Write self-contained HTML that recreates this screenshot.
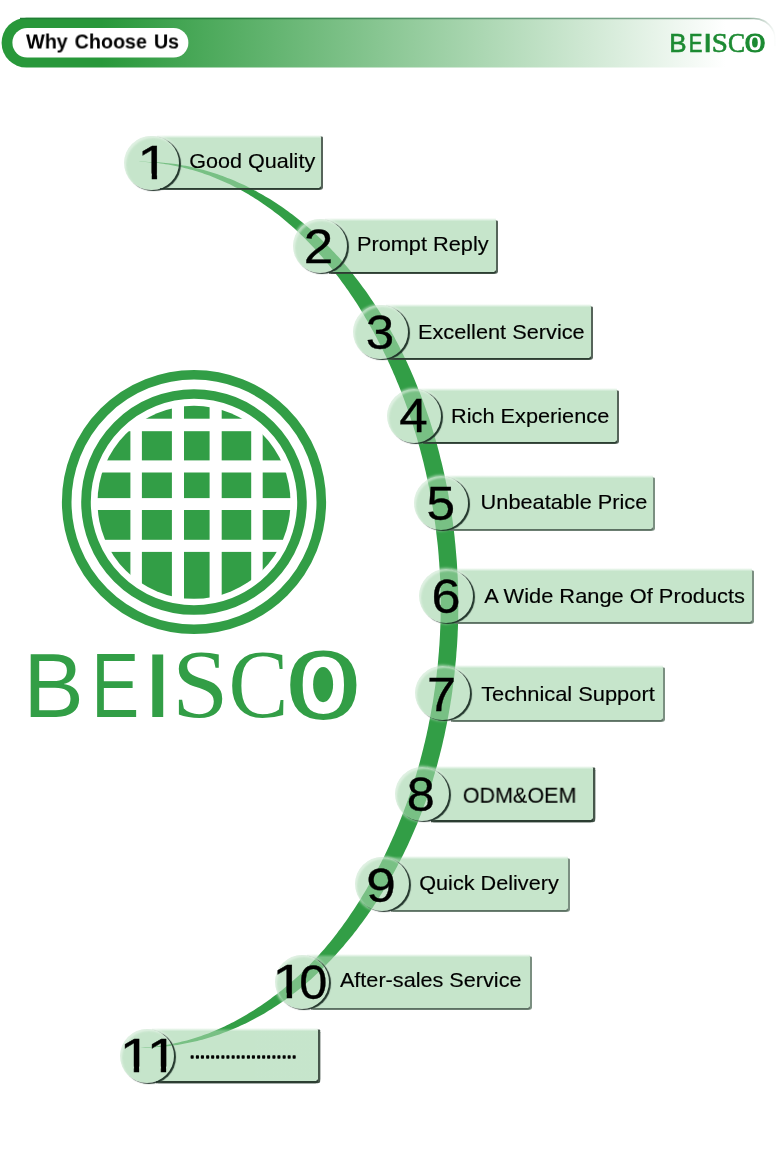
<!DOCTYPE html>
<html lang="en">
<head>
<meta charset="utf-8">
<title>Why Choose Us - BEISCO</title>
<style>
html,body{margin:0;padding:0;background:#fff;}
body{width:780px;height:1163px;position:relative;overflow:hidden;font-family:"Liberation Sans",Arial,sans-serif;color:#000;}
.t{position:absolute;left:0;top:0;will-change:transform;white-space:nowrap;transform-origin:0 0;line-height:1;}
.hl{font-size:20px;font-weight:bold;word-spacing:1.5px;}
svg{position:absolute;left:0;top:0;will-change:transform;}
.grp{position:absolute;left:0;top:0;width:780px;height:1163px;opacity:.62;}
.box{position:absolute;border-radius:0 1px 3px 0;box-sizing:content-box;}
.cir{position:absolute;width:54.4px;height:54.4px;border-radius:50%;}
.grp .box,.grp .cir{background:#a3d5ac;}
.grp .box{background:linear-gradient(to bottom,rgba(163,213,172,0) 0,#a3d5ac 3.2px);}
.sh .box{border-radius:0 1px 2.5px 0;}
.sh .d{box-shadow:0 1.7px 0 0 #2b3d31,1.9px 1.7px 0 0 #55645a,1.9px 0.4px 0 0 #55645a;}
.sh .l{box-shadow:0 1.7px 0 0 #5c7163,1.9px 1.7px 0 0 #7b8f81,1.9px 0.4px 0 0 #7b8f81;}
.sh .k{box-shadow:0 2.2px 0.4px 0 #2b3d31,2.2px 2.2px 0.4px 0 #46564b,2.2px 0.4px 0.4px 0 #46564b;}
.sh .cir{box-shadow:2px 1.1px 0.9px rgba(15,35,25,.9), 0 0 2.5px 1.2px rgba(255,255,255,.5), inset 2px 2px 2px rgba(255,255,255,.45);}
.num{font-size:48px;-webkit-text-stroke:0.35px #000;}
.lab{font-size:20.2px;-webkit-text-stroke:0.15px #000;}
.l8{font-size:21.8px;-webkit-text-stroke:0.1px #000;}
.dotsvg{pointer-events:none;}
</style>
</head>
<body>
<svg width="780" height="1163" viewBox="0 0 780 1163">
<defs><clipPath id="gc"><circle cx="194" cy="502.3" r="96.5"/></clipPath>
<linearGradient id="hg" gradientUnits="userSpaceOnUse" x1="0" y1="0" x2="780" y2="0"><stop offset="0" stop-color="#28983a"/><stop offset="0.13" stop-color="#28983a"/><stop offset="0.93" stop-color="#ffffff"/></linearGradient>
<linearGradient id="hl2" gradientUnits="userSpaceOnUse" x1="0" y1="0" x2="780" y2="0"><stop offset="0" stop-color="#1f7f33"/><stop offset="0.3" stop-color="#2a7e3e"/><stop offset="0.6" stop-color="#5f9873"/><stop offset="0.96" stop-color="#8fae9b"/><stop offset="0.995" stop-color="#8fae9b" stop-opacity="0"/></linearGradient>
</defs>
<path id="bar" d="M26.5 17.8H754A22 22 0 0 1 776 39.8V67.6H26.5A24.9 24.9 0 0 1 26.5 17.8Z" fill="url(#hg)"/>
<path id="barline" d="M20 18.5H754A21.4 21.4 0 0 1 775.4 39.8V46" fill="none" stroke="url(#hl2)" stroke-width="1.7"/>
<rect id="pill" x="12.4" y="28" width="176" height="29.6" rx="14.8" fill="#fff"/>
<path id="arc" d="M135.7 161.9 138.2 161.9 140.7 161.8 143.2 161.8 145.7 161.8 148.2 161.9 150.7 161.9 153.3 162.0 155.8 162.1 158.3 162.3 160.8 162.5 163.3 162.7 165.8 162.9 168.3 163.2 170.8 163.5 173.3 163.8 175.8 164.1 178.3 164.5 180.7 164.9 183.2 165.4 185.7 165.8 188.2 166.3 190.7 166.8 193.2 167.4 195.6 167.9 198.1 168.5 200.6 169.2 203.0 169.8 205.5 170.5 207.9 171.2 210.4 171.9 212.8 172.7 215.3 173.5 217.7 174.3 220.2 175.2 222.6 176.0 225.0 176.9 227.4 177.9 229.8 178.8 232.3 179.8 234.7 180.8 237.1 181.9 239.4 182.9 241.8 184.0 244.2 185.1 246.6 186.3 248.9 187.4 251.3 188.6 253.7 189.9 256.0 191.1 258.3 192.4 260.7 193.7 263.0 195.0 265.3 196.4 267.6 197.7 269.9 199.1 272.2 200.6 274.5 202.0 276.8 203.5 279.0 205.0 281.3 206.6 283.5 208.1 285.8 209.7 288.0 211.3 290.2 212.9 292.4 214.6 294.6 216.3 296.8 218.0 299.0 219.7 301.2 221.5 303.4 223.3 305.5 225.1 307.7 226.9 309.8 228.7 311.9 230.6 314.0 232.5 316.1 234.4 318.2 236.4 320.3 238.4 322.4 240.4 324.4 242.4 326.5 244.4 328.5 246.5 330.5 248.6 332.5 250.7 334.5 252.8 336.5 255.0 338.5 257.1 340.5 259.3 342.4 261.5 344.3 263.8 346.3 266.1 348.2 268.3 350.1 270.6 352.0 273.0 353.8 275.3 355.7 277.7 357.5 280.1 359.4 282.5 361.2 284.9 363.0 287.4 364.8 289.8 366.6 292.3 368.3 294.8 370.1 297.4 371.8 299.9 373.5 302.5 375.2 305.1 376.9 307.7 378.6 310.3 380.2 313.0 381.9 315.6 383.5 318.3 385.1 321.0 386.7 323.7 388.3 326.5 389.9 329.2 391.4 332.0 393.0 334.8 394.5 337.6 396.0 340.4 397.5 343.2 399.0 346.1 400.4 349.0 401.9 351.9 403.3 354.8 404.7 357.7 406.1 360.6 407.5 363.6 408.8 366.5 410.2 369.5 411.5 372.5 412.8 375.5 414.1 378.6 415.3 381.6 416.6 384.7 417.8 387.7 419.1 390.8 420.3 393.9 421.4 397.0 422.6 400.1 423.8 403.3 424.9 406.4 426.0 409.6 427.1 412.7 428.2 415.9 429.3 419.1 430.3 422.3 431.3 425.6 432.3 428.8 433.3 432.0 434.3 435.3 435.2 438.6 436.2 441.8 437.1 445.1 438.0 448.4 438.9 451.7 439.7 455.0 440.5 458.4 441.4 461.7 442.2 465.0 443.0 468.4 443.7 471.8 444.5 475.1 445.2 478.5 445.9 481.9 446.6 485.3 447.2 488.7 447.9 492.1 448.5 495.5 449.1 498.9 449.7 502.4 450.3 505.8 450.9 509.2 451.4 512.7 451.9 516.1 452.4 519.6 452.9 523.1 453.3 526.5 453.8 530.0 454.2 533.5 454.6 537.0 454.9 540.5 455.3 544.0 455.6 547.5 455.9 551.0 456.2 554.5 456.5 558.0 456.8 561.5 457.0 565.0 457.2 568.5 457.4 572.0 457.6 575.6 457.8 579.1 457.9 582.6 458.0 586.1 458.1 589.7 458.2 593.2 458.2 596.7 458.3 600.2 458.3 603.8 458.3 607.3 458.3 610.8 458.2 614.4 458.2 617.9 458.1 621.4 458.0 624.9 457.9 628.5 457.7 632.0 457.6 635.5 457.4 639.0 457.2 642.5 457.0 646.1 456.7 649.6 456.4 653.1 456.2 656.6 455.9 660.1 455.5 663.6 455.2 667.1 454.8 670.6 454.5 674.1 454.1 677.6 453.6 681.0 453.2 684.5 452.7 688.0 452.3 691.4 451.8 694.9 451.3 698.4 450.7 701.8 450.2 705.2 449.6 708.7 449.0 712.1 448.4 715.5 447.7 718.9 447.1 722.3 446.4 725.7 445.7 729.1 445.0 732.5 444.3 735.9 443.5 739.3 442.8 742.6 442.0 746.0 441.2 749.3 440.3 752.7 439.5 756.0 438.6 759.3 437.8 762.6 436.9 765.9 435.9 769.2 435.0 772.4 434.0 775.7 433.1 779.0 432.1 782.2 431.1 785.4 430.0 788.6 429.0 791.8 427.9 795.0 426.8 798.2 425.7 801.4 424.5 804.5 423.4 807.7 422.2 810.8 421.0 813.9 419.8 817.0 418.6 820.1 417.4 823.2 416.1 826.2 414.8 829.3 413.5 832.3 412.2 835.3 410.9 838.3 409.5 841.3 408.2 844.2 406.8 847.2 405.4 850.1 404.0 853.1 402.5 856.0 401.1 858.8 399.6 861.7 398.1 864.6 396.6 867.4 395.1 870.2 393.6 873.0 392.1 875.8 390.5 878.6 388.9 881.3 387.3 884.1 385.7 886.8 384.1 889.5 382.5 892.2 380.8 894.8 379.2 897.5 377.5 900.1 375.8 902.7 374.1 905.3 372.4 907.9 370.7 910.4 368.9 913.0 367.2 915.5 365.4 918.0 363.6 920.4 361.8 922.9 360.0 925.3 358.2 927.8 356.4 930.2 354.5 932.5 352.7 934.9 350.8 937.2 348.9 939.6 347.0 941.8 345.1 944.1 343.2 946.4 341.3 948.6 339.3 950.8 337.3 953.0 335.4 955.2 333.4 957.3 331.4 959.4 329.4 961.5 327.4 963.6 325.3 965.7 323.3 967.7 321.2 969.7 319.2 971.7 317.1 973.6 315.0 975.6 312.9 977.5 310.8 979.4 308.7 981.2 306.6 983.1 304.4 984.9 302.3 986.7 300.1 988.5 297.9 990.2 295.7 991.9 293.6 993.6 291.4 995.3 289.2 996.9 286.9 998.6 284.7 1000.2 282.5 1001.7 280.2 1003.3 278.0 1004.8 275.7 1006.3 273.4 1007.8 271.2 1009.2 268.9 1010.6 266.6 1012.0 264.3 1013.4 262.0 1014.7 259.7 1016.1 257.3 1017.3 255.0 1018.6 252.7 1019.8 250.3 1021.1 248.0 1022.2 245.6 1023.4 243.2 1024.5 240.9 1025.6 238.5 1026.7 236.1 1027.8 233.7 1028.8 231.3 1029.8 228.9 1030.8 226.5 1031.7 224.1 1032.6 221.7 1033.5 219.3 1034.4 216.8 1035.2 214.4 1036.0 212.0 1036.8 209.5 1037.6 207.1 1038.3 204.6 1039.0 202.2 1039.7 199.7 1040.3 197.3 1040.9 194.8 1041.5 192.4 1042.1 189.9 1042.6 187.4 1043.1 184.9 1043.6 182.5 1044.1 180.0 1044.5 177.5 1044.9 175.0 1045.3 172.5 1045.6 170.0 1045.9 167.6 1046.2 165.1 1046.4 162.6 1046.7 160.1 1046.9 157.6 1047.0 155.1 1047.2 152.6 1047.3 150.1 1047.4 147.6 1047.5 145.1 1047.5 142.6 1047.5 140.1 1047.5 L140.1 1047.5 142.6 1047.2 145.1 1047.1 147.6 1047.0 150.1 1046.9 152.6 1046.7 155.1 1046.5 157.5 1046.2 160.0 1045.8 162.5 1045.5 164.9 1045.1 167.4 1044.7 169.9 1044.3 172.3 1043.8 174.7 1043.3 177.2 1042.8 179.6 1042.2 182.0 1041.6 184.5 1041.0 186.9 1040.4 189.3 1039.7 191.7 1039.0 194.1 1038.3 196.5 1037.6 198.8 1036.8 201.2 1036.0 203.6 1035.1 205.9 1034.3 208.3 1033.4 210.6 1032.5 212.9 1031.5 215.3 1030.6 217.6 1029.6 219.9 1028.6 222.2 1027.5 224.5 1026.4 226.8 1025.3 229.0 1024.2 231.3 1023.1 233.6 1021.9 235.8 1020.7 238.0 1019.5 240.3 1018.3 242.5 1017.0 244.7 1015.7 246.9 1014.4 249.1 1013.1 251.3 1011.8 253.5 1010.4 255.7 1009.0 257.9 1007.6 260.0 1006.2 262.2 1004.7 264.3 1003.2 266.5 1001.7 268.6 1000.2 270.7 998.7 272.8 997.1 274.9 995.5 277.0 993.9 279.1 992.3 281.2 990.7 283.3 989.0 285.3 987.3 287.4 985.6 289.4 983.9 291.5 982.1 293.5 980.3 295.5 978.5 297.5 976.7 299.5 974.9 301.5 973.0 303.5 971.1 305.4 969.2 307.4 967.3 309.3 965.3 311.2 963.3 313.1 961.3 315.0 959.3 316.9 957.3 318.8 955.2 320.7 953.1 322.5 951.0 324.4 948.9 326.2 946.7 328.0 944.6 329.8 942.4 331.6 940.2 333.4 937.9 335.1 935.7 336.9 933.4 338.6 931.1 340.4 928.8 342.1 926.5 343.8 924.1 345.5 921.8 347.1 919.4 348.8 917.0 350.4 914.6 352.1 912.1 353.7 909.7 355.3 907.2 356.9 904.7 358.5 902.2 360.1 899.7 361.7 897.1 363.2 894.6 364.8 892.0 366.3 889.4 367.8 886.8 369.3 884.2 370.8 881.6 372.3 878.9 373.8 876.3 375.2 873.6 376.7 870.9 378.1 868.2 379.5 865.4 381.0 862.7 382.3 859.9 383.7 857.2 385.1 854.4 386.5 851.6 387.8 848.8 389.1 845.9 390.4 843.1 391.7 840.2 393.0 837.3 394.3 834.5 395.5 831.6 396.8 828.6 398.0 825.7 399.2 822.8 400.4 819.8 401.6 816.8 402.7 813.8 403.9 810.8 405.0 807.8 406.1 804.8 407.2 801.8 408.3 798.7 409.4 795.7 410.4 792.6 411.5 789.5 412.5 786.4 413.5 783.3 414.5 780.2 415.4 777.0 416.4 773.9 417.3 770.7 418.2 767.6 419.1 764.4 420.0 761.2 420.8 758.0 421.7 754.8 422.5 751.6 423.3 748.4 424.1 745.1 424.9 741.9 425.6 738.7 426.4 735.4 427.1 732.1 427.8 728.9 428.5 725.6 429.1 722.3 429.8 719.0 430.4 715.7 431.0 712.4 431.6 709.0 432.2 705.7 432.8 702.4 433.3 699.0 433.8 695.7 434.3 692.3 434.8 689.0 435.3 685.6 435.7 682.2 436.1 678.9 436.6 675.5 436.9 672.1 437.3 668.7 437.7 665.3 438.0 661.9 438.3 658.5 438.6 655.1 438.9 651.7 439.1 648.3 439.4 644.9 439.6 641.5 439.8 638.1 440.0 634.6 440.1 631.2 440.3 627.8 440.4 624.4 440.5 621.0 440.6 617.5 440.6 614.1 440.7 610.7 440.7 607.2 440.7 603.8 440.7 600.4 440.6 596.9 440.6 593.5 440.5 590.1 440.4 586.7 440.3 583.2 440.2 579.8 440.0 576.4 439.8 573.0 439.6 569.6 439.4 566.1 439.2 562.7 438.9 559.3 438.7 555.9 438.4 552.5 438.1 549.1 437.8 545.7 437.4 542.3 437.0 538.9 436.6 535.5 436.2 532.2 435.8 528.8 435.4 525.4 434.9 522.0 434.4 518.7 433.9 515.3 433.4 512.0 432.9 508.6 432.3 505.3 431.8 502.0 431.2 498.7 430.6 495.3 429.9 492.0 429.3 488.7 428.6 485.4 427.9 482.2 427.2 478.9 426.5 475.6 425.8 472.3 425.0 469.1 424.3 465.9 423.5 462.6 422.7 459.4 421.9 456.2 421.0 453.0 420.2 449.8 419.3 446.6 418.4 443.4 417.5 440.2 416.6 437.1 415.7 433.9 414.7 430.8 413.7 427.7 412.8 424.5 411.7 421.4 410.7 418.4 409.7 415.3 408.7 412.2 407.6 409.1 406.5 406.1 405.4 403.1 404.3 400.0 403.2 397.0 402.0 394.0 400.9 391.1 399.7 388.1 398.5 385.1 397.3 382.2 396.1 379.2 394.9 376.3 393.6 373.4 392.4 370.5 391.1 367.7 389.8 364.8 388.5 361.9 387.2 359.1 385.9 356.3 384.5 353.5 383.2 350.7 381.8 347.9 380.4 345.1 379.0 342.4 377.6 339.7 376.2 337.0 374.7 334.3 373.3 331.6 371.8 328.9 370.3 326.2 368.9 323.6 367.4 321.0 365.8 318.4 364.3 315.8 362.8 313.2 361.2 310.7 359.6 308.1 358.1 305.6 356.5 303.1 354.8 300.6 353.2 298.1 351.6 295.7 349.9 293.3 348.3 290.8 346.6 288.4 344.9 286.1 343.2 283.7 341.5 281.4 339.8 279.0 338.1 276.7 336.3 274.4 334.6 272.2 332.8 269.9 331.0 267.7 329.2 265.5 327.4 263.3 325.6 261.1 323.8 258.9 322.0 256.8 320.1 254.7 318.2 252.6 316.4 250.5 314.5 248.5 312.6 246.4 310.7 244.4 308.8 242.4 306.8 240.5 304.9 238.5 302.9 236.6 301.0 234.7 299.0 232.8 297.0 230.9 295.0 229.1 293.0 227.3 291.0 225.5 288.9 223.7 286.9 221.9 284.8 220.2 282.8 218.5 280.7 216.8 278.6 215.1 276.5 213.5 274.4 211.9 272.3 210.3 270.2 208.7 268.0 207.2 265.9 205.7 263.7 204.2 261.6 202.7 259.4 201.2 257.2 199.8 255.0 198.4 252.8 197.0 250.6 195.7 248.4 194.3 246.1 193.0 243.9 191.8 241.7 190.5 239.4 189.3 237.1 188.1 234.8 186.9 232.6 185.7 230.3 184.6 228.0 183.5 225.7 182.4 223.3 181.4 221.0 180.4 218.7 179.4 216.3 178.4 214.0 177.4 211.6 176.5 209.3 175.6 206.9 174.8 204.5 173.9 202.1 173.1 199.7 172.3 197.4 171.6 194.9 170.8 192.5 170.1 190.1 169.4 187.7 168.8 185.3 168.2 182.8 167.6 180.4 167.0 177.9 166.5 175.5 165.9 173.0 165.5 170.6 165.0 168.1 164.6 165.6 164.2 163.2 163.8 160.7 163.4 158.2 163.1 155.7 162.8 153.2 162.6 150.7 162.4 148.2 162.3 145.7 162.1 143.2 162.1 140.7 162.0 138.2 162.0 135.7 161.9Z" fill="#329e46"/>
<g id="rings" fill="none" stroke="#329e46" stroke-width="9.6"><circle cx="194" cy="502" r="127.3"/><circle cx="194" cy="502" r="108"/></g>
<g id="grid" fill="#329e46" clip-path="url(#gc)"><rect x="95" y="400" width="35.4" height="18.7"/><rect x="95" y="431.2" width="35.4" height="29.2"/><rect x="95" y="472.5" width="35.4" height="25.6"/><rect x="95" y="510" width="35.4" height="29.8"/><rect x="95" y="551.9" width="35.4" height="53.1"/><rect x="141.9" y="400" width="30.0" height="18.7"/><rect x="141.9" y="431.2" width="30.0" height="29.2"/><rect x="141.9" y="472.5" width="30.0" height="25.6"/><rect x="141.9" y="510" width="30.0" height="29.8"/><rect x="141.9" y="551.9" width="30.0" height="53.1"/><rect x="184" y="400" width="25.6" height="18.7"/><rect x="184" y="431.2" width="25.6" height="29.2"/><rect x="184" y="472.5" width="25.6" height="25.6"/><rect x="184" y="510" width="25.6" height="29.8"/><rect x="184" y="551.9" width="25.6" height="53.1"/><rect x="221.7" y="400" width="29.5" height="18.7"/><rect x="221.7" y="431.2" width="29.5" height="29.2"/><rect x="221.7" y="472.5" width="29.5" height="25.6"/><rect x="221.7" y="510" width="29.5" height="29.8"/><rect x="221.7" y="551.9" width="29.5" height="53.1"/><rect x="262.7" y="400" width="32.3" height="18.7"/><rect x="262.7" y="431.2" width="32.3" height="29.2"/><rect x="262.7" y="472.5" width="32.3" height="25.6"/><rect x="262.7" y="510" width="32.3" height="29.8"/><rect x="262.7" y="551.9" width="32.3" height="53.1"/></g>
<g id="logotext" fill="#329e46" stroke="#329e46" stroke-width="0"><text><tspan x="23.34" y="716.80" font-family="'Liberation Sans',serif" font-size="90.99" textLength="60.65" lengthAdjust="spacingAndGlyphs">B</tspan><tspan x="91.30" y="716.80" font-family="'Liberation Sans',serif" font-size="90.70" textLength="47.99" lengthAdjust="spacingAndGlyphs">E</tspan><tspan x="141.61" y="716.80" font-family="'Liberation Sans',serif" font-size="90.70" textLength="32.49" lengthAdjust="spacingAndGlyphs">I</tspan><tspan x="172.10" y="716.64" font-family="'Liberation Serif',serif" font-size="97.63" textLength="56.51" lengthAdjust="spacingAndGlyphs">S</tspan><tspan x="228.62" y="716.64" font-family="'Liberation Serif',serif" font-size="98.38" textLength="59.83" lengthAdjust="spacingAndGlyphs">C</tspan><tspan x="287.30" y="717.13" font-family="'Liberation Serif',serif" font-size="98.97" textLength="72.20" lengthAdjust="spacingAndGlyphs" stroke-width="2.2">O</tspan></text><ellipse cx="323.1" cy="684.6" rx="10" ry="17.7"/></g>
<g id="logosmall" fill="#1c8a32" stroke="#1c8a32" stroke-width="0" transform="matrix(0.2857 0 0 0.2857 662.6 -153.1)"><text><tspan x="23.34" y="716.80" font-family="'Liberation Sans',serif" font-size="90.99" textLength="60.65" lengthAdjust="spacingAndGlyphs" stroke-width="2.2">B</tspan><tspan x="91.30" y="716.80" font-family="'Liberation Sans',serif" font-size="90.70" textLength="47.99" lengthAdjust="spacingAndGlyphs" stroke-width="2.2">E</tspan><tspan x="141.61" y="716.80" font-family="'Liberation Sans',serif" font-size="90.70" textLength="32.49" lengthAdjust="spacingAndGlyphs" stroke-width="2.2">I</tspan><tspan x="172.10" y="716.64" font-family="'Liberation Serif',serif" font-size="97.63" textLength="56.51" lengthAdjust="spacingAndGlyphs" stroke-width="2.2">S</tspan><tspan x="228.62" y="716.64" font-family="'Liberation Serif',serif" font-size="98.38" textLength="59.83" lengthAdjust="spacingAndGlyphs" stroke-width="2.2">C</tspan><tspan x="287.30" y="717.13" font-family="'Liberation Serif',serif" font-size="98.97" textLength="72.20" lengthAdjust="spacingAndGlyphs" stroke-width="4">O</tspan></text><ellipse cx="323.1" cy="684.6" rx="10" ry="17.7"/></g>
</svg>
<div class="t hl" id="hl" style="transform:translate(26.07px,31.50px) scaleX(0.9856);">Why Choose Us</div>
<div class="grp"><div class="box" style="left:156.6px;top:135.0px;width:164.8px;height:53.4px"></div><div class="box" style="left:325.1px;top:218.3px;width:170.7px;height:53.4px"></div><div class="box" style="left:385.6px;top:304.3px;width:205.9px;height:53.4px"></div><div class="box" style="left:419.1px;top:388.3px;width:197.9px;height:53.4px"></div><div class="box" style="left:446.1px;top:475.3px;width:206.6px;height:53.4px"></div><div class="box" style="left:451.1px;top:568.3px;width:301.0px;height:54.0px"></div><div class="box" style="left:447.6px;top:665.3px;width:215.5px;height:54.5px"></div><div class="box" style="left:427.1px;top:765.8px;width:165.7px;height:54.1px"></div><div class="box" style="left:387.1px;top:856.3px;width:180.7px;height:54.2px"></div><div class="box" style="left:307.1px;top:954.3px;width:222.8px;height:54.1px"></div><div class="box" style="left:152.1px;top:1027.8px;width:165.7px;height:53.4px"></div><div class="cir" style="left:124.4px;top:135.5px"></div><div class="cir" style="left:292.9px;top:219.1px"></div><div class="cir" style="left:353.4px;top:305.1px"></div><div class="cir" style="left:386.9px;top:389.1px"></div><div class="cir" style="left:413.9px;top:476.1px"></div><div class="cir" style="left:418.9px;top:569.1px"></div><div class="cir" style="left:415.4px;top:666.1px"></div><div class="cir" style="left:394.9px;top:766.6px"></div><div class="cir" style="left:354.9px;top:857.1px"></div><div class="cir" style="left:274.9px;top:955.1px"></div><div class="cir" style="left:119.9px;top:1028.6px"></div></div>
<div class="sh"><div class="box d" style="left:160.1px;top:136.3px;width:161.3px;height:52.1px"></div><div class="box d" style="left:328.6px;top:219.6px;width:167.2px;height:52.1px"></div><div class="box d" style="left:389.1px;top:305.6px;width:202.4px;height:52.1px"></div><div class="box d" style="left:422.6px;top:389.6px;width:194.4px;height:52.1px"></div><div class="box l" style="left:449.6px;top:476.6px;width:203.1px;height:52.1px"></div><div class="box l" style="left:454.6px;top:569.6px;width:297.5px;height:52.7px"></div><div class="box l" style="left:451.1px;top:666.6px;width:212.0px;height:53.2px"></div><div class="box k" style="left:430.6px;top:767.1px;width:162.2px;height:52.8px"></div><div class="box l" style="left:390.6px;top:857.6px;width:177.2px;height:52.9px"></div><div class="box l" style="left:310.6px;top:955.6px;width:219.3px;height:52.8px"></div><div class="box k" style="left:155.6px;top:1029.1px;width:162.2px;height:52.1px"></div><div class="cir" style="left:124.4px;top:135.5px"></div><div class="cir" style="left:292.9px;top:219.1px"></div><div class="cir" style="left:353.4px;top:305.1px"></div><div class="cir" style="left:386.9px;top:389.1px"></div><div class="cir" style="left:413.9px;top:476.1px"></div><div class="cir" style="left:418.9px;top:569.1px"></div><div class="cir" style="left:415.4px;top:666.1px"></div><div class="cir" style="left:394.9px;top:766.6px"></div><div class="cir" style="left:354.9px;top:857.1px"></div><div class="cir" style="left:274.9px;top:955.1px"></div><div class="cir" style="left:119.9px;top:1028.6px"></div></div>
<div class="d"><span class="t num" id="n1" style="transform:translate(137.35px,138.75px) scaleX(1.2000);clip-path:polygon(-5.00px -10.00px,48.00px -10.00px,48.00px 34.65px,16.41px 34.65px,16.41px 58.00px,11.97px 58.00px,11.97px 34.65px,-5.00px 34.65px);">1</span></div><div class="t lab" id="l1" style="transform:translate(189.27px,150.75px) scaleX(1.0688);">Good Quality</div>
<div class="d"><span class="t num" id="n2" style="transform:translate(303.77px,223.25px) scaleX(1.1037);">2</span></div><div class="t lab" id="l2" style="transform:translate(356.93px,234.25px) scaleX(1.0767);">Prompt Reply</div>
<div class="d"><span class="t num" id="n3" style="transform:translate(365.86px,309.25px) scaleX(1.0632);">3</span></div><div class="t lab" id="l3" style="transform:translate(417.94px,322.25px) scaleX(1.0768);">Excellent Service</div>
<div class="d"><span class="t num" id="n4" style="transform:translate(399.16px,392.25px) scaleX(1.0648);">4</span></div><div class="t lab" id="l4" style="transform:translate(451.01px,406.25px) scaleX(1.0764);">Rich Experience</div>
<div class="d"><span class="t num" id="n5" style="transform:translate(426.54px,480.25px) scaleX(1.0696);">5</span></div><div class="t lab" id="l5" style="transform:translate(480.62px,492.25px) scaleX(1.0764);">Unbeatable Price</div>
<div class="d"><span class="t num" id="n6" style="transform:translate(431.52px,573.25px) scaleX(1.0849);">6</span></div><div class="t lab" id="l6" style="transform:translate(484.19px,586.25px) scaleX(1.0808);">A Wide Range Of Products</div>
<div class="d"><span class="t num" id="n7" style="transform:translate(427.11px,671.25px) scaleX(1.0889);">7</span></div><div class="t lab" id="l7" style="transform:translate(481.18px,684.25px) scaleX(1.0816);">Technical Support</div>
<div class="d"><span class="t num" id="n8" style="transform:translate(406.64px,770.75px) scaleX(1.0496);">8</span></div><div class="t lab l8" id="l8" style="transform:translate(462.76px,784.75px) scaleX(0.9874);">ODM&amp;OEM</div>
<div class="d"><span class="t num" id="n9" style="transform:translate(366.31px,862.25px) scaleX(1.1088);">9</span></div><div class="t lab" id="l9" style="transform:translate(419.20px,873.25px) scaleX(1.0722);">Quick Delivery</div>
<div class="d"><span class="t num" id="n10a" style="transform:translate(272.35px,958.25px) scaleX(1.2000);clip-path:polygon(-5.00px -10.00px,48.00px -10.00px,48.00px 34.65px,16.41px 34.65px,16.41px 58.00px,11.97px 58.00px,11.97px 34.65px,-5.00px 34.65px);">1</span><span class="t num" id="n10b" style="transform:translate(299.22px,959.25px) scaleX(1.0523);">0</span></div><div class="t lab" id="l10" style="transform:translate(339.91px,970.25px) scaleX(1.0720);">After-sales Service</div>
<div class="d"><span class="t num" id="n11a" style="transform:translate(119.47px,1031.75px) scaleX(1.2000);clip-path:polygon(-5.00px -10.00px,48.00px -10.00px,48.00px 34.65px,16.41px 34.65px,16.41px 58.00px,11.97px 58.00px,11.97px 34.65px,-5.00px 34.65px);">1</span><span class="t num" id="n11b" style="transform:translate(146.47px,1031.75px) scaleX(1.2000);clip-path:polygon(-5.00px -10.00px,48.00px -10.00px,48.00px 34.65px,16.41px 34.65px,16.41px 58.00px,11.97px 58.00px,11.97px 34.65px,-5.00px 34.65px);">1</span></div><svg class="dotsvg" width="780" height="1163" viewBox="0 0 780 1163"><text x="190.59 195.69 200.79 205.89 210.99 216.09 221.19 226.29 231.39 236.49 241.59 246.69 251.79 256.89 261.99 267.09 272.19 277.29 282.39 287.49 292.59" y="1057.64" font-family="'Liberation Sans',Arial,sans-serif" font-weight="bold" font-size="12" fill="#000" stroke="#000" stroke-width="1.4" stroke-linejoin="round">.....................</text></svg>
</body>
</html>
